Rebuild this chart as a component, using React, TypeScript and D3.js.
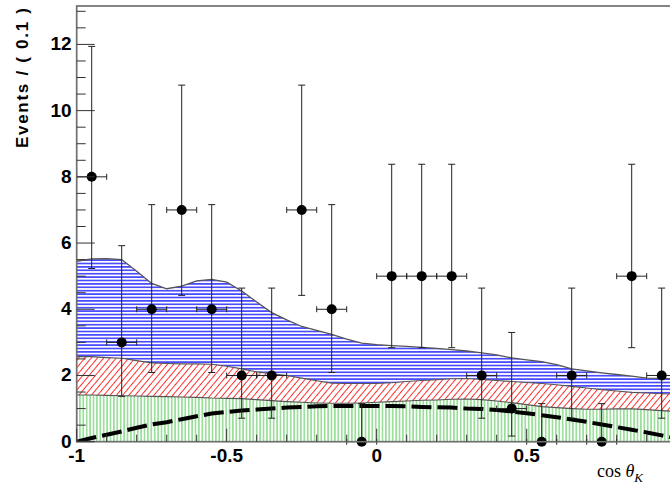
import React from "react";
import * as d3 from "d3";

// ---- data ----
const binCenters = [-0.95, -0.85, -0.75, -0.65, -0.55, -0.45, -0.35, -0.25, -0.15, -0.05,
  0.05, 0.15, 0.25, 0.35, 0.45, 0.55, 0.65, 0.75, 0.85, 0.95];
const counts = [8, 3, 4, 7, 4, 2, 2, 7, 4, 0, 5, 5, 5, 2, 1, 0, 2, 0, 5, 2];
const errLow = [2.77, 1.63, 1.91, 2.58, 1.91, 1.29, 1.29, 2.58, 1.91, 0, 2.16, 2.16, 2.16, 1.29, 0.83, 0, 1.29, 0, 2.16, 1.29];
const errHigh = [3.94, 2.92, 3.16, 3.77, 3.16, 2.64, 2.64, 3.77, 3.16, 1.15, 3.38, 3.38, 3.38, 2.64, 2.30, 1.15, 2.64, 1.15, 3.38, 2.64];
const binHalfWidth = 0.05;

const curveX = [-1.0, -0.95, -0.9, -0.85, -0.8, -0.75, -0.7, -0.65, -0.6, -0.55, -0.5, -0.45, -0.4, -0.35, -0.3, -0.25, -0.2, -0.15, -0.1, -0.05,
  0.0, 0.05, 0.1, 0.15, 0.2, 0.25, 0.3, 0.35, 0.4, 0.45, 0.5, 0.55, 0.6, 0.65, 0.7, 0.75, 0.8, 0.85, 0.9, 0.95, 1.0];
const totalTop = [5.45, 5.52, 5.53, 5.5, 5.15, 4.78, 4.62, 4.7, 4.86, 4.9, 4.82, 4.55, 4.22, 3.9, 3.68, 3.48, 3.36, 3.24, 3.1, 2.98,
  2.93, 2.9, 2.88, 2.85, 2.82, 2.78, 2.74, 2.68, 2.62, 2.53, 2.47, 2.42, 2.33, 2.2, 2.14, 2.08, 2.03, 1.98, 1.92, 1.91, 1.9];
const redTop = [2.57, 2.57, 2.54, 2.52, 2.45, 2.38, 2.36, 2.35, 2.35, 2.34, 2.28, 2.2, 2.11, 2.05, 2.0, 1.92, 1.84, 1.77, 1.76, 1.76,
  1.76, 1.78, 1.82, 1.85, 1.87, 1.9, 1.91, 1.88, 1.85, 1.82, 1.79, 1.76, 1.72, 1.67, 1.62, 1.57, 1.53, 1.49, 1.47, 1.45, 1.43];
const greenTop = [1.41, 1.41, 1.4, 1.39, 1.38, 1.37, 1.36, 1.35, 1.34, 1.32, 1.31, 1.3, 1.27, 1.24, 1.21, 1.19, 1.17, 1.16, 1.16, 1.17,
  1.19, 1.21, 1.23, 1.25, 1.26, 1.28, 1.29, 1.27, 1.23, 1.18, 1.12, 1.06, 1.03, 1.0, 0.98, 0.98, 0.99, 0.99, 0.97, 0.94, 0.91];
const dashedCurve = [0.0, 0.11, 0.21, 0.31, 0.42, 0.52, 0.59, 0.68, 0.77, 0.85, 0.9, 0.94, 0.97, 1.0, 1.03, 1.05, 1.07, 1.08, 1.08, 1.08,
  1.08, 1.08, 1.07, 1.05, 1.04, 1.03, 1.0, 0.99, 0.96, 0.91, 0.86, 0.8, 0.74, 0.67, 0.6, 0.52, 0.44, 0.36, 0.28, 0.19, 0.1];

const xTicksMajor = [-1, -0.5, 0, 0.5, 1];
const xTickLabels = ["-1", "-0.5", "0", "0.5"];
const yTicksMajor = [0, 2, 4, 6, 8, 10, 12];
const yTickLabels = ["0", "2", "4", "6", "8", "10", "12"];

const W = 670, H = 490;
const L = 76.7, R = 676.7, T = 6, B = 441.7;

export default function App() {
  const x = d3.scaleLinear().domain([-1, 1]).range([L, R]);
  const y = d3.scaleLinear().domain([0, 13.16]).range([B, T]);
  const idx = curveX.map((_, i) => i);

  const band = (lo: (i: number) => number, hi: (i: number) => number) =>
    d3.area<number>().x(i => x(curveX[i])).y0(i => y(lo(i))).y1(i => y(hi(i)))(idx) || "";
  const line = (vals: number[]) =>
    d3.line<number>().x(i => x(curveX[i])).y(i => y(vals[i]))(idx) || "";

  const blueD = band(i => redTop[i], i => totalTop[i]);
  const redD = band(i => greenTop[i], i => redTop[i]);
  const greenD = band(() => 0, i => greenTop[i]);

  const xMinor = d3.range(-10, 11).map(k => k / 10).filter(v => !xTicksMajor.some(m => Math.abs(m - v) < 1e-9));
  const yMinor = d3.range(0, 27).map(k => k * 0.5).filter(v => v % 2 !== 0);

  const tickColor = "#333";
  const errColor = "#222";

  return (
    <svg width={W} height={H} style={{ position: "absolute", left: 0, top: 0, background: "#fff" }}>
      <defs>
        <pattern id="blueH" width="10" height="3.4" patternUnits="userSpaceOnUse">
          <line x1="0" x2="10" y1="1.7" y2="1.7" stroke="#0000ff" strokeWidth="1.2" />
        </pattern>
        <pattern id="redD" width="4.8" height="10" patternUnits="userSpaceOnUse" patternTransform="rotate(40)">
          <line x1="2.4" x2="2.4" y1="0" y2="10" stroke="#ff2a2a" strokeWidth="1" />
        </pattern>
        <pattern id="greenV" width="3.4" height="10" patternUnits="userSpaceOnUse">
          <line x1="1.7" x2="1.7" y1="0" y2="10" stroke="#55c855" strokeWidth="1" />
        </pattern>
        <clipPath id="frameClip">
          <rect x={L} y={T} width={R - L} height={B - T} />
        </clipPath>
      </defs>

      <g clipPath="url(#frameClip)">
        <path d={blueD} fill="url(#blueH)" />
        <path d={redD} fill="url(#redD)" />
        <path d={greenD} fill="url(#greenV)" />
        <path d={line(totalTop)} fill="none" stroke="#555" strokeWidth={1.3} />
        <path d={line(redTop)} fill="none" stroke="#555" strokeWidth={1.1} />
        <path d={line(greenTop)} fill="none" stroke="#555" strokeWidth={1.1} />
        <path d={line(dashedCurve)} fill="none" stroke="#000" strokeWidth={4} strokeDasharray="20,6" />
      </g>

      {/* data points */}
      <g>
        {binCenters.map((c, i) => {
          const cx = x(c), cy = y(counts[i]);
          const yHi = y(counts[i] + errHigh[i]);
          const yLo = y(counts[i] - errLow[i]);
          const xl = x(c - binHalfWidth), xr = x(c + binHalfWidth);
          return (
            <g key={i} stroke={errColor} strokeWidth={1}>
              <line x1={cx} x2={cx} y1={yHi} y2={yLo} />
              <line x1={cx - 3.5} x2={cx + 3.5} y1={yHi} y2={yHi} />
              {errLow[i] > 0 && <line x1={cx - 3.5} x2={cx + 3.5} y1={yLo} y2={yLo} />}
              <line x1={xl} x2={xr} y1={cy} y2={cy} />
              <line x1={xl} x2={xl} y1={cy - 3} y2={cy + 3} />
              <line x1={xr} x2={xr} y1={cy - 3} y2={cy + 3} />
              <circle cx={cx} cy={cy} r={5} fill="#000" stroke="none" />
            </g>
          );
        })}
      </g>

      {/* frame */}
      <rect x={L} y={T} width={R - L} height={B - T} fill="none" stroke="#707070" strokeWidth={1.7} />

      {/* ticks */}
      <g stroke={tickColor} strokeWidth={1}>
        {yTicksMajor.map(v => <line key={"ym" + v} x1={L} x2={L + 18} y1={y(v)} y2={y(v)} />)}
        {yMinor.map(v => <line key={"yn" + v} x1={L} x2={L + 9} y1={y(v)} y2={y(v)} />)}
        {xTicksMajor.map(v => <line key={"xm" + v} x1={x(v)} x2={x(v)} y1={B} y2={B - 13} />)}
        {xMinor.map(v => <line key={"xn" + v} x1={x(v)} x2={x(v)} y1={B} y2={B - 7} />)}
      </g>

      <g fontFamily="'Liberation Sans', Arial, Helvetica, sans-serif" fontWeight="bold" fontSize={19} fill="#000">
        {yTicksMajor.map((v, i) => (
          <text key={"yl" + v} x={L - 5} y={y(v) + 6} textAnchor="end">{yTickLabels[i]}</text>
        ))}
        {xTickLabels.map((lab, i) => (
          <text key={"xl" + lab} x={x(xTicksMajor[i])} y={462} textAnchor="middle">{lab}</text>
        ))}
      </g>

      {/* axis titles */}
      <text transform="translate(28,148) rotate(-90)" fontFamily="'Liberation Sans', Arial, Helvetica, sans-serif"
        fontWeight="bold" fontSize={17} textLength={140} lengthAdjust="spacing" fill="#000">
        Events / ( 0.1 )
      </text>
      <text x={597} y={476.5} fontFamily="'Liberation Serif', 'Times New Roman', serif" fontSize={18} fill="#000">
        cos <tspan fontStyle="italic">θ</tspan>
        <tspan fontStyle="italic" fontSize={13} dy={5}>K</tspan>
      </text>
    </svg>
  );
}
